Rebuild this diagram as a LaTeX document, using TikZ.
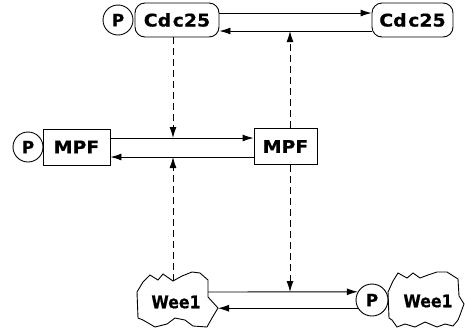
\documentclass[tikz,border=0pt]{standalone}
\usepackage{fontspec}
\newfontfamily\lblfont[FakeBold=0.6]{DejaVu Sans}
\newfontfamily\widefont[FakeBold=0.6,FakeStretch=1.08]{DejaVu Sans}
\newfontfamily\narrowfont[FakeBold=0.6,FakeStretch=0.9]{DejaVu Sans}
\usetikzlibrary{arrows.meta,calc}
\begin{document}
\begin{tikzpicture}[x=1pt,y=-1pt,
  line width=0.9pt,
  lbl/.style={font=\lblfont\bfseries\fontsize{17}{19}\selectfont, inner sep=0pt},
  wide/.style={font=\widefont\bfseries\fontsize{17.5}{19}\selectfont},
  narrow/.style={font=\narrowfont\bfseries\fontsize{17.5}{19}\selectfont},
  pnode/.style={lbl, circle, draw, minimum size=30pt},
  roundbox/.style={lbl, wide, draw, rounded corners=10pt, minimum height=34pt},
  sqbox/.style={lbl, wide, draw, minimum height=36pt},
  arr/.style={-{Latex[length=11pt,width=7pt]}},
  darr/.style={arr, dash pattern=on 7pt off 4pt},
]
\useasboundingbox (0,0) rectangle (465,333);

% Cdc25 pair
\node[pnode] (pC) at (118,20) {P};
\node[roundbox, minimum width=84pt] (cdcL) at (177,20) {Cd\kern1.5pt c25};
\node[roundbox, minimum width=81pt] (cdcR) at (412.5,20) {Cd\kern1.5pt c25};

% MPF pair
\node[pnode] (pM) at (28,147) {P};
\node[sqbox, minimum width=67pt] (mpfL) at (76.5,147) {MPF};
\node[sqbox, minimum width=63pt] (mpfR) at (285.5,146.5) {MPF};

% Wee1 pair (outlines drawn below)
\node[lbl, narrow] (wee1L) at (176,302) {Wee1};
\node[pnode, minimum size=32pt] (pW) at (372,300) {P};
\node[lbl, narrow] (wee1R) at (428,301) {Wee1};

% wavy outline of the left Wee1
\draw (143,282) -- (150,275) -- (158,280) -- (163,274) -- (173,281) -- (182,276)
  -- (192,272) -- (200,273) -- (208,280) -- (208,297) -- (218,308) -- (212,318)
  -- (207,327) -- (193,326) -- (185,320) -- (175,318) -- (167,324) -- (155,327)
  -- (143,320) -- (138,318) -- (137,292) -- cycle;
% wavy outline of the right Wee1
\draw (393,281) -- (398,273) -- (407,278) -- (413,273) -- (420,278) -- (428,275)
  -- (437,272) -- (447,272) -- (458,279) -- (459,296) -- (464,304) -- (460,315)
  -- (458,320) -- (453,326) -- (445,324) -- (437,327) -- (425,322) -- (415,327)
  -- (405,324) -- (397,327) -- (392,320) -- (389,318) -- (388,292) -- cycle;

% levels of the horizontal connectors and columns of the dashed ones
\coordinate (yCa) at (0,13);
\coordinate (yCb) at (0,31);
\coordinate (yMa) at (0,138);
\coordinate (yMb) at (0,157);
\coordinate (yWa) at (0,292);
\coordinate (xL) at (173,0);
\coordinate (xR) at (290,0);
\coordinate (w1Lr) at (208,292);
\coordinate (w1Ln) at (218,308);
\coordinate (w1Ltop) at (173,281);

% solid reaction arrows
\draw[arr] (cdcL.east |- yCa) -- (cdcR.west |- yCa);
\draw[arr] (cdcR.west |- yCb) -- (cdcL.east |- yCb);
\draw[arr] (mpfL.east |- yMa) -- (mpfR.west |- yMa);
\draw[arr] (mpfR.west |- yMb) -- (mpfL.east |- yMb);
\draw[arr] (w1Lr) -- (pW.150);
\draw[arr] (pW.210) -- (pW.210 -| w1Ln);

% dashed regulatory arrows
\draw[darr] (cdcL.south -| xL) -- (xL |- yMa);
\draw[darr] (w1Ltop) -- (xL |- yMb);
\draw[darr] (mpfR.north -| xR) -- (xR |- yCb);
\draw[darr] (mpfR.south -| xR) -- (xR |- yWa);
\end{tikzpicture}
\end{document}
